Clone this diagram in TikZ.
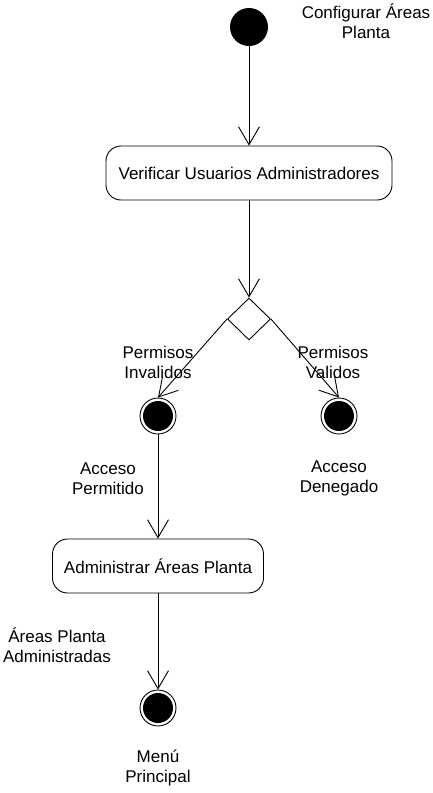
\documentclass[tikz,border=0pt]{standalone}
\usepackage{fontspec}
\setmainfont{Liberation Sans}
\usetikzlibrary{arrows.meta,shapes.geometric}
\begin{document}
\begin{tikzpicture}[x=1pt,y=-1pt,
  every node/.style={font=\fontsize{17}{20}\selectfont},
  txt/.style={align=center, inner sep=0pt},
  flow/.style={line width=0.9pt, -{Straight Barb[length=18pt,width=21pt,line width=0.9pt]}},
  initial/.style={circle, fill=black, inner sep=0pt, minimum size=38pt},
  activity/.style={draw, line width=0.9pt, rounded corners=15pt, minimum height=54pt, inner sep=0pt},
  decision/.style={diamond, draw, line width=0.9pt, minimum width=43pt, minimum height=42pt, inner sep=0pt},
  final/.style={circle, draw, line width=0.9pt, inner sep=0pt, minimum size=36pt,
    path picture={\fill[black] (path picture bounding box.center) circle (15pt);}}
]
\useasboundingbox (0,0) rectangle (433,793);

% start state and its caption
\node[initial] (start) at (249,27) {};
\node[txt] (startlbl) at (366,21) {Configurar Áreas\\Planta};

% activities and decision
\node[activity, minimum width=286pt] (verif) at (249,173) {Verificar Usuarios Administradores};
\node[decision] (dec) at (249,319) {};
\node[final] (inv) at (158,416) {};
\node[final] (val) at (339,416) {};
\node[activity, minimum width=211pt] (adm) at (158,566) {Administrar Áreas Planta};
\node[final] (fin) at (158,708) {};

% transition captions
\node[txt] (lblinv) at (158,362) {Permisos\\Invalidos};
\node[txt] (lblval) at (333,362) {Permisos\\Validos};
\node[txt] (lblperm) at (108,479) {Acceso\\Permitido};
\node[txt] (lbldeny) at (339,478) {Acceso\\Denegado};
\node[txt] (lbladm) at (57,645) {Áreas Planta\\Administradas};
\node[txt] (lblmenu) at (158,768) {Menú\\Principal};

% transitions
\draw[flow] (start) -- (verif);
\draw[flow] (verif) -- (dec);
\draw[flow] (dec.west) -- (inv.north);
\draw[flow] (dec.east) -- (val.north);
\draw[flow] (inv) -- (adm);
\draw[flow] (adm) -- (fin);
\end{tikzpicture}
\end{document}
